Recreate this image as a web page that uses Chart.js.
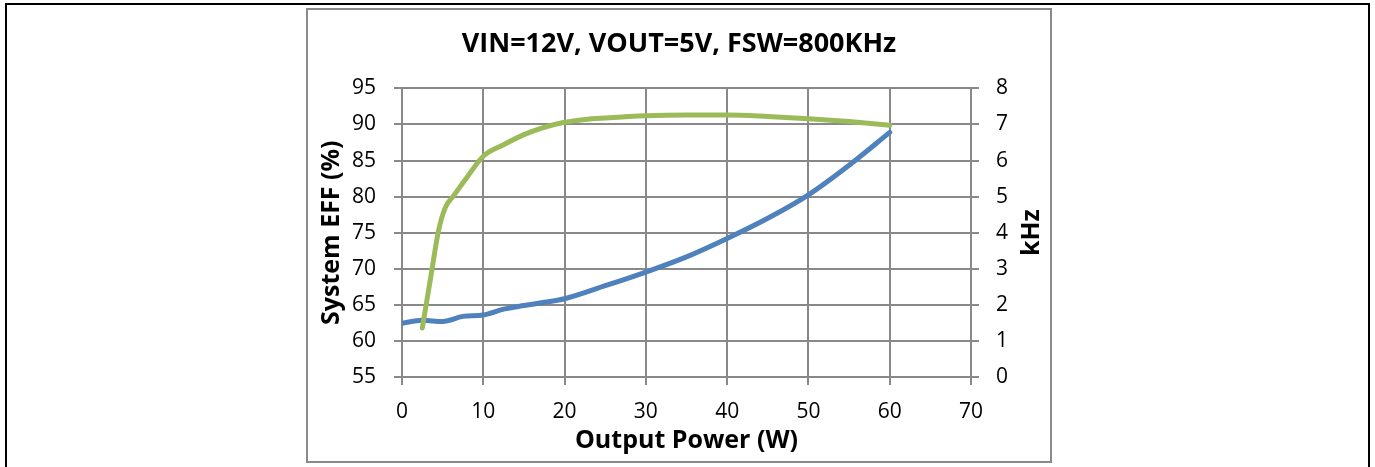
<!DOCTYPE html>
<html>
<head>
<meta charset="utf-8">
<script src="https://cdn.jsdelivr.net/npm/chart.js@4.4.0/dist/chart.umd.min.js"></script>
<style>
  html, body { margin: 0; padding: 0; background: #fff; overflow: hidden; }
  #frame {
    position: absolute; left: 5px; top: 3px; width: 1365px; height: 480px;
    border: 2px solid #000; border-bottom: none; box-sizing: border-box;
  }
  #box {
    position: absolute; left: 306px; top: 8px; width: 746px; height: 455px;
    border: 2px solid #8a8a8a; box-sizing: border-box;
  }
  #chart { position: absolute; left: 306px; top: 8px; }
</style>
</head>
<body>
<div id="frame"></div>
<div id="box"></div>
<canvas id="chart" width="746" height="455"></canvas>
<script>
const chartTitle = 'VIN=12V, VOUT=5V, FSW=800KHz'
const xTitle = 'Output Power (W)'
const effTitle = 'System EFF (%)'
const freqTitle = 'kHz'

// efficiency curve (left axis, %)
const effPower = [2.5, 3.5, 4.5, 5.3, 6.4, 8, 10, 12.5, 15, 17.5, 20, 22.5, 25, 30, 35, 40, 45, 50, 55, 60]
const effValues = [61.8, 68.6, 75.3, 78.4, 80.2, 82.7, 85.6, 87.2, 88.6, 89.6, 90.3, 90.7, 90.9, 91.2, 91.3, 91.3, 91.1, 90.8, 90.4, 89.9]

// frequency curve (right axis, kHz)
const freqPower = [0, 2.5, 5, 7.5, 10, 12.5, 15, 17.5, 20, 25, 30, 35, 40, 45, 50, 55, 60]
const freqValues = [1.49, 1.57, 1.54, 1.68, 1.72, 1.88, 1.98, 2.07, 2.17, 2.53, 2.91, 3.33, 3.84, 4.4, 5.05, 5.87, 6.78]

const xRange = [0, 70, 10]
const effRange = [55, 95, 5]
const freqRange = [0, 8, 1]

const toPoints = (xs, ys) => xs.map((x, i) => ({ x: x, y: ys[i] }))

const gridColor = '#898989'
const font = 'Open Sans'
const tickFont = { family: font, size: 21 }
const titleFont = { family: font, size: 25, weight: 'bold' }

// right axis title reads bottom-to-top like the left one
const rightTitle = {
  id: 'rightTitle',
  afterDraw(chart) {
    const { ctx, chartArea } = chart
    const s = chart.scales.y1
    ctx.save()
    ctx.translate(s.right - 20, (chartArea.top + chartArea.bottom) / 2)
    ctx.rotate(-Math.PI / 2)
    ctx.font = 'bold 25px "Open Sans"'
    ctx.fillStyle = '#000'
    ctx.textAlign = 'center'
    ctx.textBaseline = 'middle'
    ctx.fillText(freqTitle, 0, 0)
    ctx.restore()
  }
}

new Chart(document.getElementById('chart'), {
  type: 'line',
  data: {
    datasets: [
      {
        data: toPoints(effPower, effValues),
        yAxisID: 'y',
        borderColor: '#9BBB59',
        borderWidth: 5,
        borderCapStyle: 'round',
        pointRadius: 0,
        cubicInterpolationMode: 'monotone'
      },
      {
        data: toPoints(freqPower, freqValues),
        yAxisID: 'y1',
        borderColor: '#4F81BD',
        borderWidth: 5,
        borderCapStyle: 'round',
        pointRadius: 0,
        cubicInterpolationMode: 'monotone'
      }
    ]
  },
  options: {
    responsive: false,
    animation: false,
    devicePixelRatio: 1,
    layout: { padding: 0 },
    plugins: {
      legend: { display: false },
      tooltip: { enabled: false },
      title: {
        display: true,
        text: chartTitle,
        color: '#000',
        font: { family: font, size: 27, weight: 'bold' },
        padding: { top: 20, bottom: 28 }
      }
    },
    scales: {
      x: {
        type: 'linear',
        min: xRange[0],
        max: xRange[1],
        ticks: { stepSize: xRange[2], color: '#000', font: tickFont, padding: 14, maxRotation: 0 },
        grid: { color: gridColor, lineWidth: 2, tickLength: 8 },
        border: { color: gridColor, width: 2 },
        title: { display: true, text: xTitle, color: '#000', font: titleFont, padding: { top: 0, bottom: 7 } },
        afterFit: s => { s.height = 86 }
      },
      y: {
        position: 'left',
        min: effRange[0],
        max: effRange[1],
        ticks: { stepSize: effRange[2], color: '#000', font: tickFont, padding: 18 },
        grid: { color: gridColor, lineWidth: 2, tickLength: 8 },
        border: { color: gridColor, width: 2 },
        title: { display: true, text: effTitle, color: '#000', font: titleFont, padding: { top: 11, bottom: 0 } },
        afterFit: s => { s.width = 96 }
      },
      y1: {
        position: 'right',
        min: freqRange[0],
        max: freqRange[1],
        ticks: { stepSize: freqRange[2], color: '#000', font: tickFont, padding: 17 },
        grid: { color: gridColor, lineWidth: 2, tickLength: 8, drawOnChartArea: false },
        border: { color: gridColor, width: 2 },
        title: { display: false },
        afterFit: s => { s.width = 81 }
      }
    }
  },
  plugins: [rightTitle]
})
</script>
</body>
</html>
